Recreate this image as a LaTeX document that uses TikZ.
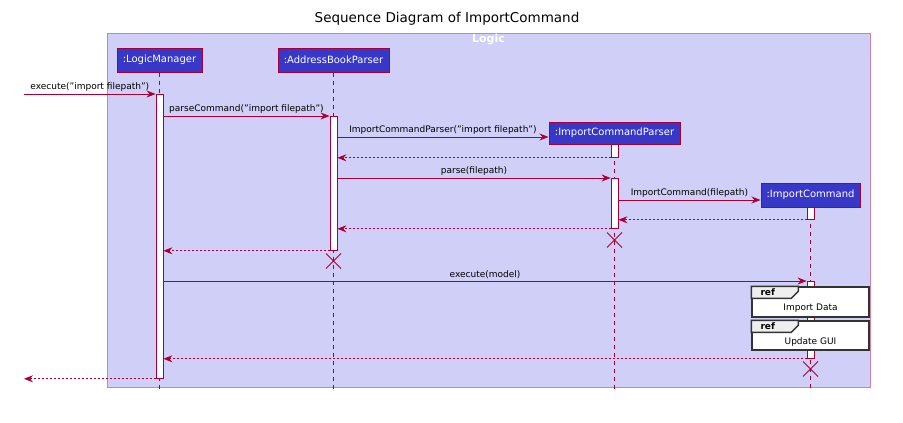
\documentclass[tikz,border=0pt]{standalone}
\usepackage{fontspec}
\setmainfont{DejaVu Sans}
\usetikzlibrary{arrows.meta,shapes.misc}
\definecolor{umlred}{HTML}{A80036}
\definecolor{umlblue}{HTML}{3838C8}
\definecolor{logicbg}{HTML}{CFCFF7}
\definecolor{logicline}{HTML}{D6819F}
\definecolor{refline}{HTML}{333333}
\definecolor{reftabbg}{HTML}{EEEEEE}
\begin{document}
\begin{tikzpicture}[x=1pt,y=-1pt,
  part/.style={draw=umlred,fill=umlblue,text=white,line width=1pt,inner sep=0pt,
    minimum height=24pt,font=\fontsize{10}{12}\selectfont},
  actbar/.style={draw=umlred,fill=white,line width=0.8pt,inner sep=0pt,
    minimum width=7pt,anchor=north},
  life/.style={draw=umlred,line width=0.6pt,dash pattern=on 4pt off 4pt},
  msg/.style={draw=umlred,line width=0.8pt,-{Stealth[length=9pt,width=7pt,inset=3pt]}},
  ret/.style={msg,dash pattern=on 2pt off 2pt},
  lbl/.style={above,inner sep=2pt,font=\fontsize{9}{11}\selectfont},
  kill/.style={draw=umlred,cross out,line width=1pt,minimum size=14pt,inner sep=0pt},
  refbox/.style={draw=refline,fill=white,line width=1.4pt,minimum width=117pt,inner sep=0pt},
  reftab/.style={draw=refline,fill=reftabbg,line width=1.4pt}]
\useasboundingbox (0,0) rectangle (903,423);
% frame
\node[draw=logicline,fill=logicbg,line width=1pt,minimum width=763pt,minimum height=354pt,
  inner sep=0pt] (logic) at (488.5,210) {};
\node[below,text=white,inner sep=1pt,font=\fontsize{11}{13}\selectfont\bfseries] at (logic.north) {Logic};
\node[font=\fontsize{13.5}{16}\selectfont] (title) at (447,19) {Sequence Diagram of ImportCommand};
% participants
\node[part,minimum width=85pt] (lm) at (159.5,60) {:LogicManager};
\node[part,minimum width=111pt] (abp) at (333.5,60) {:AddressBookParser};
\node[part,minimum width=131pt,minimum height=22pt] (icp) at (614.5,133) {:ImportCommandParser};
\node[part,minimum width=99pt] (ic) at (810.5,195) {:ImportCommand};
\coordinate (icpIn) at ([yshift=-4pt]icp.west);
\coordinate (icIn) at ([yshift=-5pt]ic.west);
% lifelines
\coordinate (bottom) at (0,391);
\draw[life] (lm.south) -- (lm.south |- bottom);
\draw[life] (abp.south) -- (abp.south |- bottom);
\draw[life] (icp.south) -- (icp.south |- bottom);
\draw[life] (ic.south) -- (ic.south |- bottom);
% activations
\node[actbar,minimum height=284pt] (lmA) at (159.5,94) {};
\node[actbar,minimum height=134pt] (abpA) at (333.5,116) {};
\node[actbar,minimum height=13pt] (icpA1) at (614.5,144) {};
\node[actbar,minimum height=50pt] (icpA2) at (614.5,178) {};
\node[actbar,minimum height=12pt] (icA1) at (810.5,207) {};
\node[actbar,minimum height=77pt] (icA2) at (810.5,281) {};
% messages
\coordinate (src) at (24,94);
\draw[msg] (src) -- (lmA.north west) node[lbl,midway] {execute("import filepath")};
\draw[msg] (lmA.east |- abpA.north) -- (abpA.north west) node[lbl,midway] {parseCommand("import filepath")};
\draw[msg] (abpA.east |- icpIn) -- (icpIn) node[lbl,midway] {ImportCommandParser("import filepath")};
\draw[ret] (icpA1.south west) -- (abpA.east |- icpA1.south);
\draw[msg] (abpA.east |- icpA2.north) -- (icpA2.north west) node[lbl,midway] {parse(filepath)};
\draw[msg] (icpA2.east |- icIn) -- (icIn) node[lbl,midway] {ImportCommand(filepath)};
\draw[ret] (icA1.south west) -- (icpA2.east |- icA1.south);
\draw[ret] (icpA2.south west) -- (abpA.east |- icpA2.south);
\node[kill] (icpX) at (614.5,240) {};
\draw[ret] (abpA.south west) -- (lmA.east |- abpA.south);
\node[kill] (abpX) at (333.5,261) {};
\draw[msg] (lmA.east |- icA2.north) -- (icA2.north west) node[lbl,midway] {execute(model)};
% ref frames
\node[refbox,minimum height=30pt] (ref1) at (810.5,302) {};
\draw[reftab] (ref1.north west) -- ++(47,0) -- ++(0,5) -- ++(-7,7) -- ++(-40,0) -- cycle;
\node[anchor=west,inner sep=0pt,font=\fontsize{9}{11}\selectfont\bfseries] at ([shift={(9,6)}]ref1.north west) {ref};
\node[inner sep=0pt,font=\fontsize{9}{11}\selectfont] at ([shift={(0,6)}]ref1.center) {Import Data};
\node[refbox,minimum height=29pt] (ref2) at (810.5,335.5) {};
\draw[reftab] (ref2.north west) -- ++(47,0) -- ++(0,5) -- ++(-7,7) -- ++(-40,0) -- cycle;
\node[anchor=west,inner sep=0pt,font=\fontsize{9}{11}\selectfont\bfseries] at ([shift={(9,6)}]ref2.north west) {ref};
\node[inner sep=0pt,font=\fontsize{9}{11}\selectfont] at ([shift={(0,6.5)}]ref2.center) {Update GUI};
% returns
\draw[ret] (icA2.south west) -- (lmA.east |- icA2.south);
\node[kill] (icX) at (810.5,369) {};
\draw[ret] (lmA.south west) -- (src |- lmA.south);
\end{tikzpicture}
\end{document}
